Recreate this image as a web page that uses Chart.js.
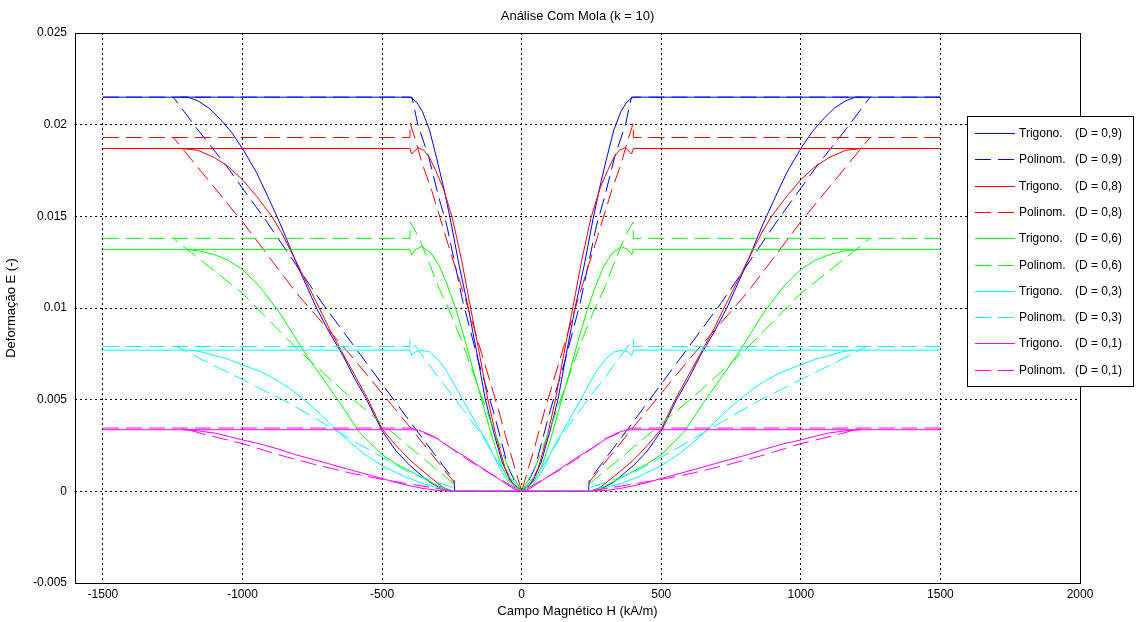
<!DOCTYPE html>
<html>
<head>
<meta charset="utf-8">
<title>Análise Com Mola (k = 10)</title>
<script src="https://cdn.jsdelivr.net/npm/chart.js@4.4.0/dist/chart.umd.min.js"></script>
<style>
  html, body { margin: 0; padding: 0; background: #fff; }
  canvas { display: block; }
</style>
</head>
<body>
<canvas id="chart" width="1139" height="622"></canvas>
<script>
// labels
const chartTitle = 'Análise Com Mola (k = 10)';
const xTitle = 'Campo Magnético H (kA/m)';
const yTitle = 'Deformação E (-)';
const methods = ['Trigono.', 'Polinom.'];
const dLabels = ['0,9', '0,8', '0,6', '0,3', '0,1'];
const lineColors = ['#0000ff', '#ff0000', '#00ff00', '#00ffff', '#ff00ff'];

const xTicks = [-1500, -1000, -500, 0, 500, 1000, 1500, 2000];
const xTickLabels = ['-1500', '-1000', '-500', '0', '500', '1000', '1500', '2000'];
const yTicks = [-0.005, 0, 0.005, 0.01, 0.015, 0.02, 0.025];
const yTickLabels = ['-0.005', '0', '0.005', '0.01', '0.015', '0.02', '0.025'];

const hMax = 1500;

// branches for H >= 0 as [H, E]; the H < 0 side is the mirror image.
// "Steep" runs from the origin up to the saturation plateau,
// "Grad" runs from the end of the zero plateau up to saturation.
const trig09Steep = [[0,0],[40,0.00055],[70,0.0016],[100,0.0032],[130,0.0050],[160,0.0075],[190,0.0099],[225,0.0124],[255,0.0148],[280,0.0166],[305,0.0182],[330,0.0197],[355,0.0207],[375,0.0212],[390,0.0214],[400,0.0215]];
const trig09Grad = [[245,0],[280,0.0001],[330,0.0005],[400,0.0014],[450,0.0022],[500,0.0033],[555,0.0050],[600,0.0062],[640,0.0074],[690,0.0087],[735,0.0100],[800,0.0122],[865,0.0146],[910,0.0161],[950,0.0174],[1000,0.0187],[1040,0.0196],[1080,0.0203],[1120,0.0209],[1160,0.0213],[1195,0.0215],[1222,0.0215]];

const trig08Steep = [[0,0],[30,0.00035],[60,0.0013],[90,0.0029],[121,0.0050],[150,0.0074],[183,0.0100],[215,0.0126],[248,0.0149],[280,0.0165],[308,0.0175],[330,0.0182],[350,0.0186],[371,0.01875],[394,0.0184],[400,0.0187]];
const trig08Grad = [[245,0],[280,0.0002],[330,0.0008],[400,0.0017],[450,0.0025],[500,0.0034],[550,0.0050],[600,0.0064],[640,0.0075],[690,0.0089],[725,0.0100],[810,0.0126],[860,0.0141],[895,0.0150],[950,0.0161],[1000,0.0170],[1050,0.0177],[1100,0.0182],[1160,0.0186],[1218,0.0187]];

const trig06Steep = [[0,0],[45,0.00055],[75,0.0015],[105,0.0029],[138,0.0047],[170,0.0064],[200,0.0081],[235,0.0099],[265,0.0112],[295,0.0123],[325,0.0130],[357,0.01335],[380,0.0132],[394,0.0129],[400,0.0132]];
const trig06Grad = [[245,0],[300,0.0003],[350,0.0007],[400,0.0011],[450,0.0015],[500,0.0020],[580,0.0032],[650,0.0048],[710,0.0061],[770,0.0074],[820,0.0086],[865,0.0097],[905,0.0105],[940,0.0112],[1000,0.0121],[1050,0.0126],[1100,0.0129],[1150,0.0131],[1205,0.0132]];

const trig03Steep = [[0,0],[38,0.00023],[80,0.0013],[121,0.0026],[163,0.0037],[211,0.0050],[240,0.0058],[270,0.0066],[300,0.0072],[330,0.0076],[362,0.0077],[382,0.0076],[394,0.0074],[400,0.0077]];
const trig03Grad = [[245,0],[300,0.0002],[350,0.0004],[420,0.0008],[500,0.0014],[560,0.0020],[610,0.0026],[660,0.0033],[720,0.0042],[780,0.0050],[830,0.0056],[870,0.0060],[930,0.0065],[1000,0.0069],[1050,0.0072],[1100,0.0074],[1145,0.0076],[1185,0.0077]];

const trig01Steep = [[0,0],[26,0.00012],[70,0.00055],[109,0.00095],[150,0.00135],[193,0.0018],[225,0.0021],[258,0.0024],[310,0.00295],[345,0.0032],[370,0.00333],[395,0.00336]];
const trig01Grad = [[245,0],[300,0.00005],[350,0.00015],[400,0.0003],[450,0.00048],[500,0.0007],[560,0.00095],[620,0.0012],[690,0.0015],[750,0.00175],[810,0.0020],[870,0.0023],[940,0.0026],[1000,0.0028],[1050,0.0030],[1100,0.00318],[1160,0.0033],[1215,0.00336]];

const poli09Steep = [[0,0],[20,0.0004],[48,0.0013],[102,0.0044],[155,0.0071],[210,0.0103],[268,0.0145],[298,0.0161],[334,0.0183],[372,0.0200],[393,0.0215]];
const poli09Grad = [[240,0],[242,0.0006],[400,0.0038],[507,0.0060],[716,0.0103],[913,0.0147],[1060,0.0178],[1164,0.0198],[1248,0.0215]];

const poli08Steep = [[0,0],[48,0.0025],[84,0.0045],[143,0.0075],[200,0.0104],[262,0.0134],[322,0.0164],[357,0.0179],[381,0.0192],[400,0.0201],[400,0.0193]];
const poli08Grad = [[240,0],[242,0.0005],[400,0.0035],[600,0.0072],[806,0.0108],[1000,0.0147],[1248,0.0193]];

const poli06Steep = [[0,0],[46,0.0012],[106,0.0036],[163,0.0060],[217,0.0083],[260,0.0099],[294,0.0110],[330,0.0124],[370,0.0139],[400,0.0147],[400,0.0138]];
const poli06Grad = [[240,0],[242,0.0004],[400,0.0024],[641,0.0055],[800,0.0077],[1000,0.0108],[1248,0.0138]];

const poli03Steep = [[0,0],[72,0.0013],[149,0.0032],[227,0.0048],[298,0.0062],[360,0.0075],[400,0.0083],[400,0.0079]];
const poli03Grad = [[240,0],[245,0.0002],[400,0.0010],[585,0.0026],[764,0.0042],[856,0.0050],[949,0.0057],[1000,0.0061],[1134,0.0071],[1236,0.0079]];

const poli01Steep = [[0,0],[50,0.00042],[133,0.00114],[217,0.00196],[300,0.00287],[393,0.00345]];
const poli01Grad = [[240,0],[360,0.0003],[500,0.00065],[615,0.0010],[750,0.0015],[872,0.0020],[1000,0.0026],[1134,0.0031],[1215,0.00345]];

const trigSteep = [trig09Steep, trig08Steep, trig06Steep, trig03Steep, trig01Steep];
const trigGrad = [trig09Grad, trig08Grad, trig06Grad, trig03Grad, trig01Grad];
const poliSteep = [poli09Steep, poli08Steep, poli06Steep, poli03Steep, poli01Steep];
const poliGrad = [poli09Grad, poli08Grad, poli06Grad, poli03Grad, poli01Grad];

// one closed loop per curve: left half, a gap, then right half
function buildLoop(steep, grad) {
    const sat = steep[steep.length - 1][1];
    const pts = [];
    [-1, 1].forEach((side, n) => {
        if (n > 0) pts.push({x: null, y: null});
        pts.push({x: side * hMax, y: sat});
        for (let i = steep.length - 1; i >= 0; i--) {
            pts.push({x: side * steep[i][0], y: steep[i][1]});
        }
        grad.forEach(p => pts.push({x: side * p[0], y: p[1]}));
    });
    return pts;
}

const datasets = [];
dLabels.forEach((d, k) => {
    [0, 1].forEach(m => {
        datasets.push({
            label: methods[m] + ' (D = ' + d + ')',
            method: methods[m],
            dText: d,
            data: m === 0 ? buildLoop(trigSteep[k], trigGrad[k]) : buildLoop(poliSteep[k], poliGrad[k]),
            borderColor: lineColors[k],
            borderWidth: 1,
            borderDash: m === 0 ? [] : [16, 7],
            showLine: true,
            spanGaps: false,
            pointRadius: 0,
            tension: 0,
            order: 20 - datasets.length
        });
    });
});

// axes box, title and legend drawn on top of the lines
const frame = {
    id: 'frame',
    afterDatasetsDraw(chart) {
        const ctx = chart.ctx;
        const a = chart.chartArea;
        ctx.save();
        ctx.strokeStyle = '#000';
        ctx.lineWidth = 1;
        ctx.setLineDash([]);
        ctx.strokeRect(a.left + 0.5, a.top + 0.5, a.right - a.left, a.bottom - a.top);

        ctx.fillStyle = '#000';
        ctx.font = '13px "Liberation Sans", Arial, sans-serif';
        ctx.textAlign = 'center';
        ctx.textBaseline = 'middle';
        ctx.fillText(chartTitle, (a.left + a.right) / 2, 16);

        const lx = 967, ly = 116, lw = 166, lh = 270;
        ctx.fillStyle = '#fff';
        ctx.fillRect(lx, ly, lw, lh);
        ctx.strokeStyle = '#000';
        ctx.strokeRect(lx + 0.5, ly + 0.5, lw, lh);
        ctx.font = '12px "Liberation Sans", Arial, sans-serif';
        ctx.textAlign = 'left';
        chart.data.datasets.forEach((ds, i) => {
            const y = Math.round(ly + 17 + i * 26.3) + 0.5;
            ctx.strokeStyle = ds.borderColor;
            ctx.setLineDash(ds.borderDash);
            ctx.beginPath();
            ctx.moveTo(975, y);
            ctx.lineTo(1015, y);
            ctx.stroke();
            ctx.setLineDash([]);
            ctx.fillStyle = '#000';
            ctx.fillText(ds.method, 1019, y);
            ctx.fillText('(D = ' + ds.dText + ')', 1075, y);
        });
        ctx.restore();
    }
};

Chart.defaults.font.family = '"Liberation Sans", Arial, sans-serif';
Chart.defaults.color = '#000';

const ctx = document.getElementById('chart').getContext('2d');
const chart = new Chart(ctx, {
    type: 'scatter',
    data: { datasets: datasets },
    options: {
        responsive: false,
        animation: false,
        devicePixelRatio: 1,
        layout: { padding: { top: 33, right: 59, bottom: 0, left: 0 } },
        plugins: {
            legend: { display: false },
            title: { display: false },
            tooltip: { enabled: false }
        },
        scales: {
            x: {
                type: 'linear',
                min: -1600,
                max: 2000,
                afterBuildTicks: s => { s.ticks = xTicks.map(v => ({ value: v })); },
                afterFit: s => { s.height = 39; },
                ticks: {
                    callback: (v, i) => xTickLabels[i],
                    font: { size: 12 },
                    color: '#000',
                    padding: 4,
                    maxRotation: 0,
                    autoSkip: false
                },
                grid: { color: '#000', lineWidth: 1, drawTicks: false },
                border: { display: false, dash: [2, 3] },
                title: {
                    display: true,
                    text: xTitle,
                    font: { size: 13 },
                    color: '#000',
                    padding: { top: 0, bottom: 3 }
                }
            },
            y: {
                type: 'linear',
                min: -0.005,
                max: 0.025,
                afterBuildTicks: s => { s.ticks = yTicks.map(v => ({ value: v })); },
                afterFit: s => { s.width = 75; },
                ticks: {
                    callback: (v, i) => yTickLabels[i],
                    font: { size: 12 },
                    color: '#000',
                    padding: 8
                },
                grid: { color: '#000', lineWidth: 1, drawTicks: false },
                border: { display: false, dash: [2, 3] },
                title: {
                    display: true,
                    text: yTitle,
                    font: { size: 13 },
                    color: '#000',
                    padding: { top: 4, bottom: 0 }
                }
            }
        }
    },
    plugins: [frame]
});
</script>
</body>
</html>
